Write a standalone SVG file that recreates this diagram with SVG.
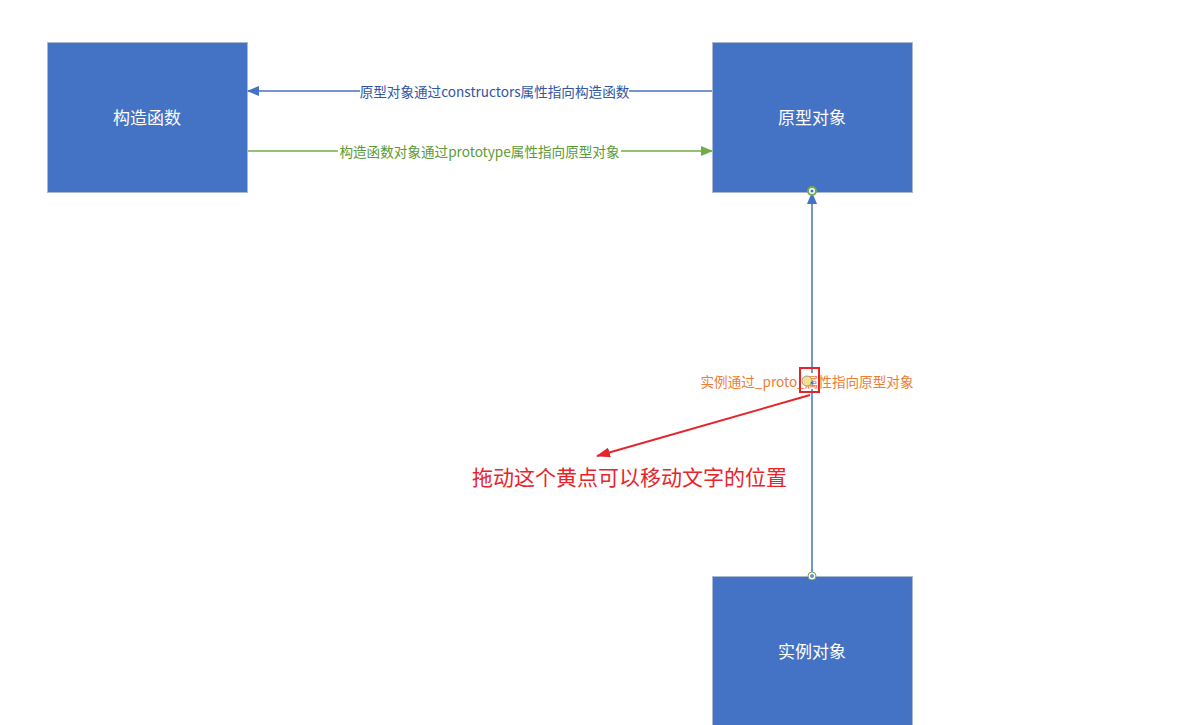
<svg xmlns="http://www.w3.org/2000/svg" width="1177" height="725" viewBox="0 0 1177 725">
<style>
.node{fill:#4472c4;stroke:#aab8d4;stroke-width:1}
.nt{font-family:"Noto Sans CJK SC","Liberation Sans",sans-serif;font-size:17px;fill:#fff;text-anchor:middle;dominant-baseline:central}
.lbl{font-family:"Noto Sans CJK SC","Liberation Sans",sans-serif;font-size:13.6px;text-anchor:middle;dominant-baseline:central}
.bg{fill:#fff}
</style>
<defs>
<marker id="ab" markerWidth="12" markerHeight="10" refX="11" refY="5" orient="auto" markerUnits="userSpaceOnUse"><path d="M0,0 L12,5 L0,10 Z" fill="#4472c4"/></marker>
<marker id="ag" markerWidth="12" markerHeight="10" refX="11" refY="5" orient="auto" markerUnits="userSpaceOnUse"><path d="M0,0 L12,5 L0,10 Z" fill="#70ad47"/></marker>
<marker id="ar" markerWidth="14" markerHeight="10" refX="13" refY="5" orient="auto" markerUnits="userSpaceOnUse"><path d="M0,0 L14,5 L0,10 Z" fill="#e8242b"/></marker>
</defs>
<rect width="1177" height="725" fill="#fff"/>
<g id="n-constructor"><rect class="node" x="47.5" y="42.5" width="200" height="150"/><text class="nt" x="147" y="116">构造函数</text></g>
<g id="n-prototype"><rect class="node" x="712.5" y="42.5" width="200" height="150"/><text class="nt" x="812" y="116">原型对象</text></g>
<g id="n-instance"><rect class="node" x="712.5" y="576.5" width="200" height="160"/><text class="nt" x="812" y="650">实例对象</text></g>
<g id="connectors">
<line x1="712" y1="91" x2="248" y2="91" stroke="#4472c4" stroke-width="1.5" marker-end="url(#ab)"/>
<rect class="bg" x="360" y="83" width="269" height="16"/>
<text class="lbl" x="494.5" y="91" fill="#2f55a4">原型对象通过constructors属性指向构造函数</text>
<line x1="248" y1="151" x2="712" y2="151" stroke="#70ad47" stroke-width="1.5" marker-end="url(#ag)"/>
<rect class="bg" x="338" y="143" width="283" height="16"/>
<text class="lbl" x="479.5" y="151" fill="#5b9a35">构造函数对象通过prototype属性指向原型对象</text>
<line x1="812" y1="576" x2="812" y2="193" stroke="#4472c4" stroke-width="1.5" marker-end="url(#ab)"/>
<rect class="bg" x="700" y="373" width="214" height="16"/>
<text class="lbl" x="807" y="381" fill="#ed7d31">实例通过_proto_属性指向原型对象</text>
<circle cx="812" cy="191" r="4" fill="#fff" stroke="#70ad47" stroke-width="2"/>
<circle cx="812" cy="191" r="1.5" fill="#4472c4"/>
<circle cx="812" cy="576" r="4" fill="#fff" stroke="#70ad47" stroke-width="1"/>
<circle cx="812" cy="576" r="2" fill="#6a8fd6"/>
<circle cx="807" cy="381" r="5" fill="#f6e08a" stroke="#9a9a9a" stroke-width="1"/>
<circle cx="812" cy="383" r="1.5" fill="#4472c4"/>
<rect x="800" y="368" width="19" height="24" fill="none" stroke="#e8242b" stroke-width="2"/>
<line x1="810" y1="395" x2="597" y2="456" stroke="#e8242b" stroke-width="2" marker-end="url(#ar)"/>
</g>
<text x="472" y="476" font-family="'Noto Sans CJK SC','Liberation Sans',sans-serif" font-size="21" fill="#e8242b" dominant-baseline="central">拖动这个黄点可以移动文字的位置</text>
</svg>
